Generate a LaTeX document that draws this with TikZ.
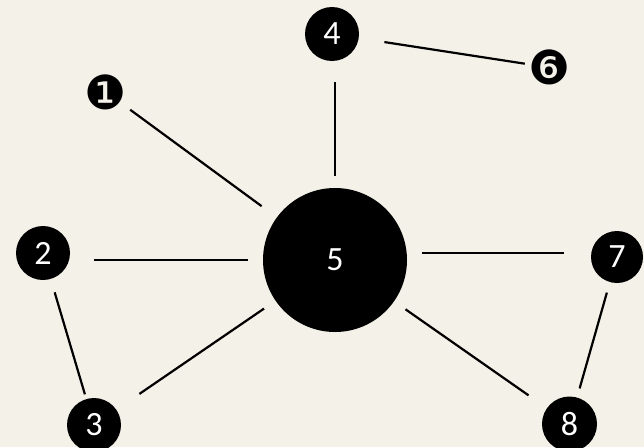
\documentclass[tikz,border=0pt]{standalone}
\usepackage{fontspec}
\setmainfont{Carlito}
\newfontfamily\dingfont{DejaVu Sans}
\definecolor{paper}{RGB}{244,241,232}
\begin{document}
\begin{tikzpicture}[x=1pt,y=-1pt,
  dot/.style={circle,fill=black,text=white,inner sep=0pt,minimum size=#1,
    font=\fontsize{34}{40}\selectfont},
  glyph/.style={inner sep=0pt,font=\dingfont\fontsize{47}{54}\selectfont},
  link/.style={line width=2.2pt,black}]
\fill[paper] (0,0) rectangle (644,447);
\useasboundingbox (0,0) rectangle (644,447);
\node[glyph] (n1) at (106,92) {❶};
\node[dot=54pt] (n4) at (332,34) {4};
\node[glyph] (n6) at (549.5,67.5) {❻};
\node[dot=54pt] (n2) at (43,253) {2};
\node[dot=144pt] (n5) at (335,260) {5};
\node[dot=52pt] (n7) at (617,257) {7};
\node[dot=54pt] (n3) at (94,425) {3};
\node[dot=55pt] (n8) at (569.5,424) {8};
\coordinate (h7) at ([yshift=4pt]n7.center);
\draw[link,shorten <=30pt,shorten >=91pt] (n1.center) -- (n5.center);
\draw[link,shorten <=48pt,shorten >=84pt] (n5 |- n4) -- (n5.center);
\draw[link,shorten <=53pt,shorten >=25pt] (n4.center) -- (n6.center);
\draw[link,shorten <=51pt,shorten >=87pt] (n2 |- n5) -- (n5.center);
\draw[link,shorten <=87pt,shorten >=53pt] (n5 |- h7) -- (h7);
\draw[link,shorten <=41pt,shorten >=32pt] (n2.center) -- (n3.center);
\draw[link,shorten <=55pt,shorten >=86pt] (n3.center) -- (n5.center);
\draw[link,shorten <=86pt,shorten >=50pt] (n5.center) -- (n8.center);
\draw[link,shorten <=37pt,shorten >=37pt] (n7.center) -- (n8.center);
\end{tikzpicture}
\end{document}
